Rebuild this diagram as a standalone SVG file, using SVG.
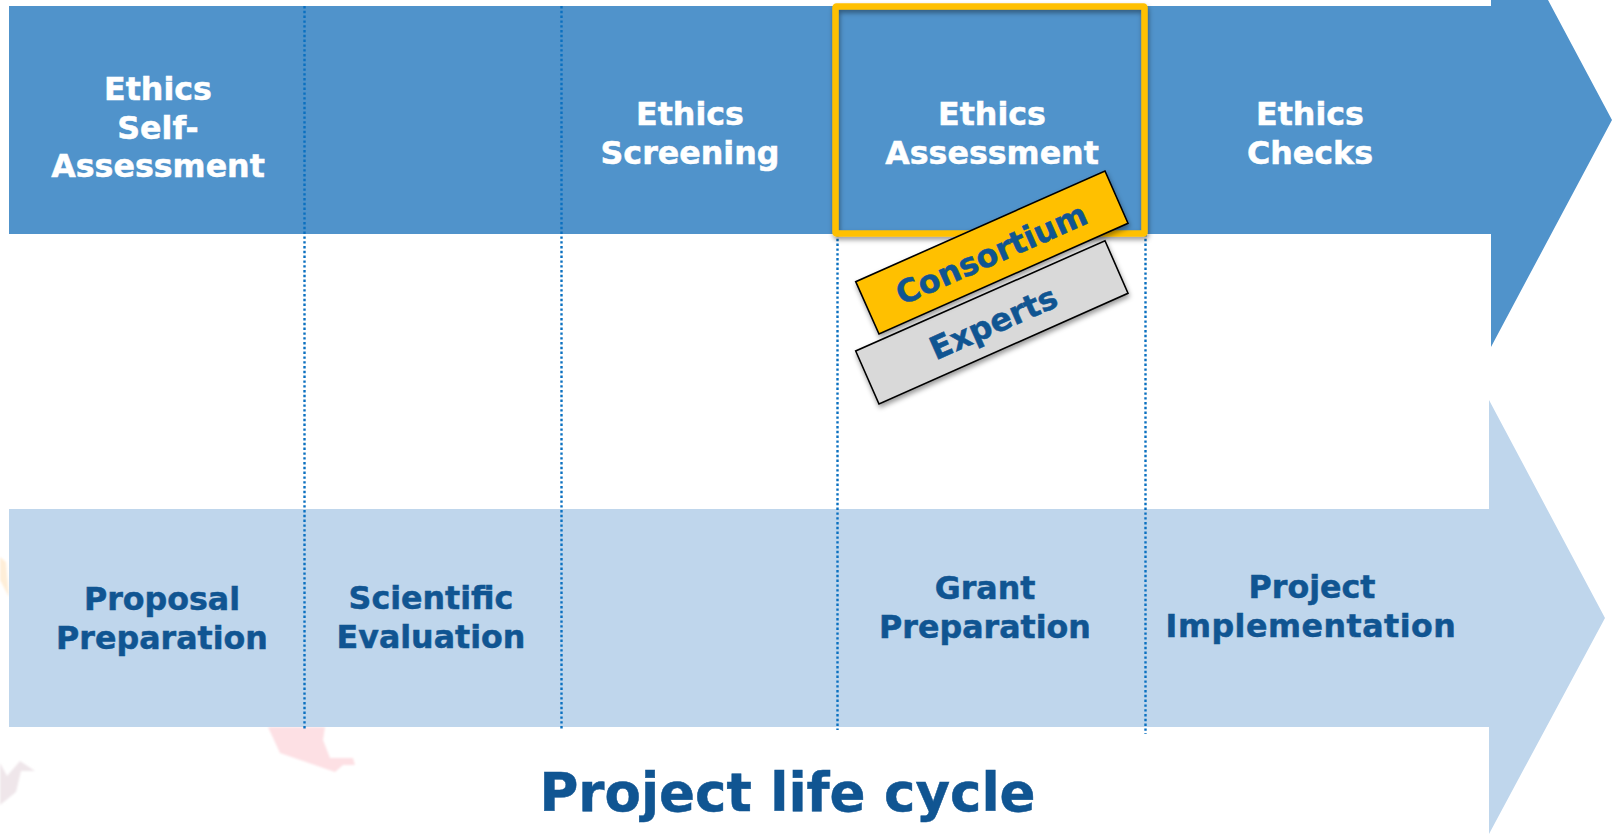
<svg xmlns="http://www.w3.org/2000/svg" width="1612" height="834" viewBox="0 0 1612 834">
<defs>
<style>
text{font-family:"DejaVu Sans",Verdana,sans-serif;font-weight:700;text-anchor:middle;stroke-width:.5}
.w{fill:#ffffff;stroke:#ffffff;font-size:31.7px}
.d{fill:#105592;stroke:#105592;font-size:31.7px}
.v{fill:none;stroke:#0a70c0;stroke-width:2.4;stroke-dasharray:2.4 2.4}
.tag{stroke:#000;stroke-width:1.6;filter:url(#sh)}
</style>
<filter id="sh" x="-10%" y="-20%" width="120%" height="140%"><feDropShadow dx="1" dy="3" stdDeviation="2.5" flood-color="#000" flood-opacity=".4"/></filter>
<filter id="soft" x="-20%" y="-20%" width="140%" height="140%"><feGaussianBlur stdDeviation="1"/></filter>
</defs>
<g id="decor" filter="url(#soft)">
<polygon points="0,557 6,562 9,597 0,580" fill="#feeed8"/>
<polygon points="268,727 280,753 335,772 343,765 355,765 353,758 330,758 323,740 325,727" fill="#fde0e4"/>
<polygon points="0,763 7,776 20,761 35,771 21,771 16,792 0,805" fill="#efe6ea"/>
</g>
<g id="arrow-ethics"><polygon points="9,6 1491,6 1491,-26 1548,0 1612,120 1491,347 1491,234 9,234" fill="#5093cb"/></g>
<g id="arrow-project"><polygon points="9,509 1489,509 1489,400 1605,618 1489,834 1489,727 9,727" fill="#bfd6ec"/></g>
<g id="connectors">
<line class="v" x1="304.5" y1="6" x2="304.5" y2="730"/>
<line class="v" x1="561.5" y1="6" x2="561.5" y2="730"/>
<line class="v" x1="837.5" y1="234" x2="837.5" y2="730"/>
<line class="v" x1="1145.5" y1="234" x2="1145.5" y2="734"/>
</g>
<g id="highlight"><rect x="835.5" y="6.5" width="309" height="227" rx="1" fill="none" stroke="#ffc000" stroke-width="6.5" filter="url(#sh)"/></g>
<g id="ethics-self"><text class="w" x="158" y="100">Ethics</text><text class="w" x="158" y="139">Self-</text><text class="w" x="158" y="177">Assessment</text></g>
<g id="ethics-screening"><text class="w" x="690" y="125">Ethics</text><text class="w" x="690" y="164">Screening</text></g>
<g id="ethics-assessment"><text class="w" x="992" y="125">Ethics</text><text class="w" x="992" y="164">Assessment</text></g>
<g id="ethics-checks"><text class="w" x="1310" y="125">Ethics</text><text class="w" x="1310" y="164">Checks</text></g>
<g id="experts"><polygon class="tag" points="1105,240.7 1128,293.3 879,404 855.7,351" fill="#d9d9d9"/><text class="d" transform="translate(998,333) rotate(-23.9)">Experts</text></g>
<g id="consortium"><polygon class="tag" points="1105,171 1128,223.3 879,334 855.7,281.7" fill="#ffc000"/><text class="d" transform="translate(996,264) rotate(-23.9)">Consortium</text></g>
<g id="proposal"><text class="d" x="162" y="610">Proposal</text><text class="d" x="162" y="649">Preparation</text></g>
<g id="scientific"><text class="d" x="431" y="609">Scientific</text><text class="d" x="431" y="648">Evaluation</text></g>
<g id="grant"><text class="d" x="985" y="599">Grant</text><text class="d" x="985" y="638">Preparation</text></g>
<g id="implementation"><text class="d" x="1312" y="598">Project</text><text class="d" x="1311" y="637" style="letter-spacing:.5px">Implementation</text></g>
<g id="title"><text x="787.5" y="811" fill="#105592" stroke="#105592" style="font-size:53px">Project life cycle</text></g>
</svg>
